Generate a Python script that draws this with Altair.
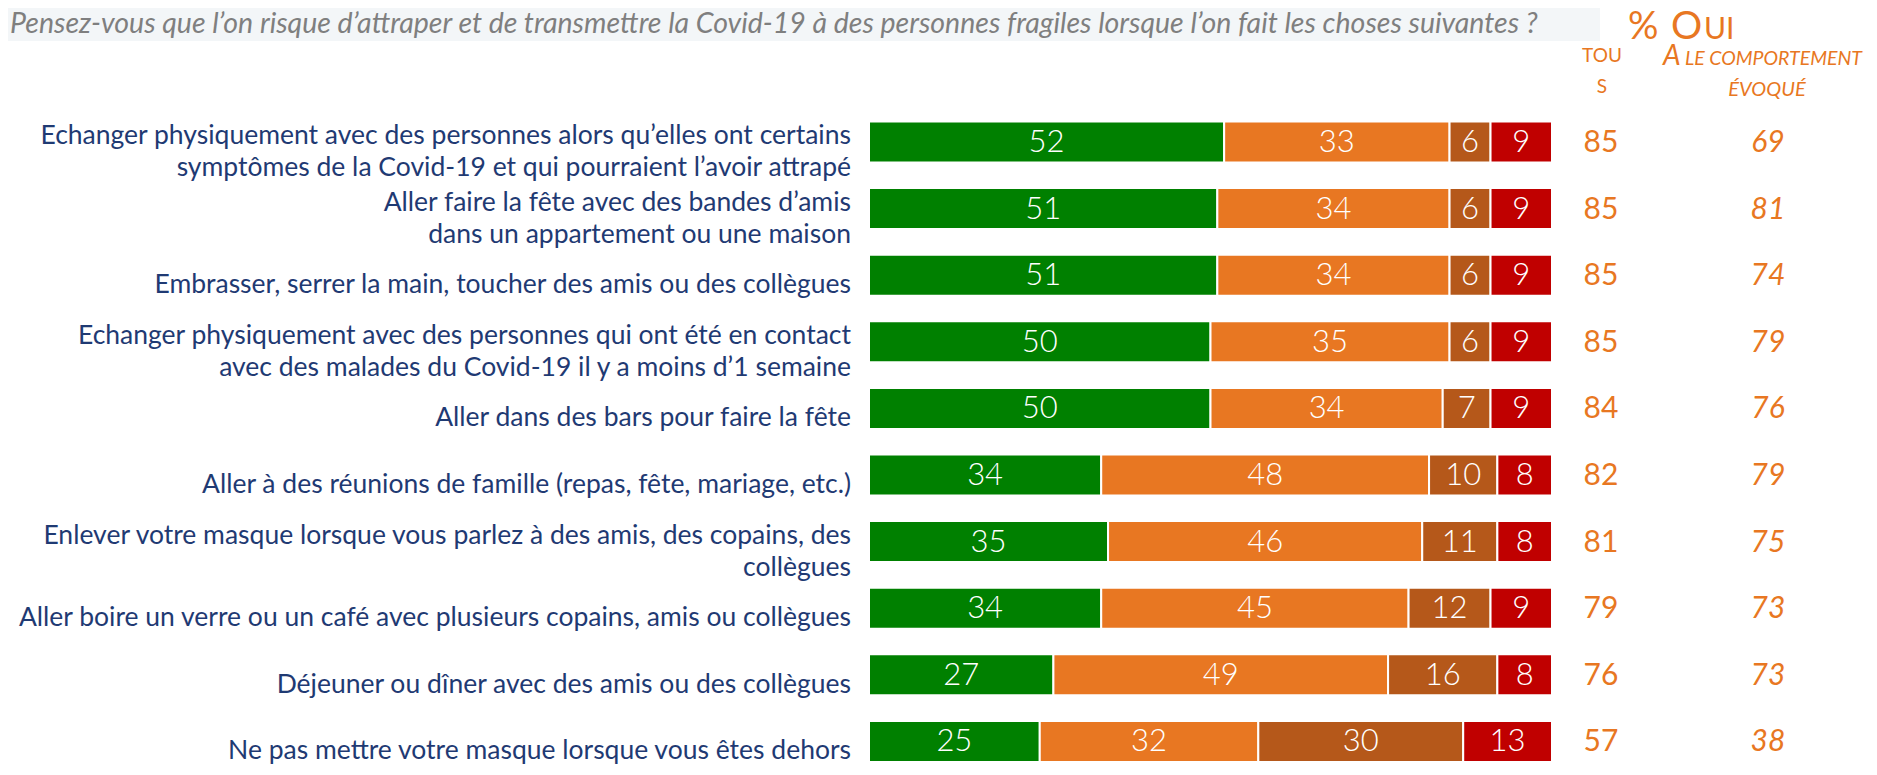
import altair as alt
import pandas as pd

# ---------------- data ----------------
labels = [
    "Echanger physiquement avec des personnes alors qu’elles ont certains\nsymptômes de la Covid-19 et qui pourraient l’avoir attrapé",
    "Aller faire la fête avec des bandes d’amis\ndans un appartement ou une maison",
    "Embrasser, serrer la main, toucher des amis ou des collègues",
    "Echanger physiquement avec des personnes qui ont été en contact\navec des malades du Covid-19 il y a moins d’1 semaine",
    "Aller dans des bars pour faire la fête",
    "Aller à des réunions de famille (repas, fête, mariage, etc.)",
    "Enlever votre masque lorsque vous parlez à des amis, des copains, des\ncollègues",
    "Aller boire un verre ou un café avec plusieurs copains, amis ou collègues",
    "Déjeuner ou dîner avec des amis ou des collègues",
    "Ne pas mettre votre masque lorsque vous êtes dehors",
]
seg_names = ["Oui, tout à fait", "Oui, plutôt", "Non, plutôt pas", "Non, pas du tout"]
v_green = [52, 51, 51, 50, 50, 34, 35, 34, 27, 25]
v_orange = [33, 34, 34, 35, 34, 48, 46, 45, 49, 32]
v_brown = [6, 6, 6, 6, 7, 10, 11, 12, 16, 30]
v_red = [9, 9, 9, 9, 9, 8, 8, 9, 8, 13]
tous = [85, 85, 85, 85, 84, 82, 81, 79, 76, 57]
comportement = [69, 81, 74, 79, 76, 79, 75, 73, 73, 38]

title_text = "Pensez-vous que l’on risque d’attraper et de transmettre la Covid-19 à des personnes fragiles lorsque l’on fait les choses suivantes ?"

# ---------------- style / layout ----------------
seg_colors = ["#008000", "#E87722", "#B5581A", "#C00000"]
ORANGE = "#E87722"
NAVY = "#1F3A73"
FONT = "Lato"
W, H = 1861, 759
PX_PER_UNIT = 6.83
BAR_X0 = 861
ROW0 = 134
ROW_STEP = 66.6
HALF_BAR = 20.5 / ROW_STEP
LH = 32
LABEL_DY = 10

x_dom = [-BAR_X0 / PX_PER_UNIT, (W - BAR_X0) / PX_PER_UNIT]
y_dom = [-ROW0 / ROW_STEP, (H - ROW0) / ROW_STEP]
xs = alt.Scale(domain=x_dom, nice=False, zero=False)
ys = alt.Scale(domain=y_dom, nice=False, zero=False, reverse=True)

rows = []
for i in range(len(labels)):
    vals = [v_green[i], v_orange[i], v_brown[i], v_red[i]]
    start = 0
    for k, v in enumerate(vals):
        rows.append({"pos": i, "seg": seg_names[k], "value": v,
                     "start": start, "end": start + v})
        start += v
seg_df = pd.DataFrame(rows)
row_df = pd.DataFrame({"pos": list(range(len(labels))), "label": labels,
                       "tous": tous, "comp": comportement})

base = alt.Chart(seg_df)
bars = base.mark_bar(stroke="white", strokeWidth=2).transform_calculate(
    y0=f"datum.pos - {HALF_BAR}", y1=f"datum.pos + {HALF_BAR}",
).encode(
    x=alt.X("start:Q", scale=xs, axis=None),
    x2="end:Q",
    y=alt.Y("y0:Q", scale=ys, axis=None),
    y2="y1:Q",
    color=alt.Color("seg:N", scale=alt.Scale(domain=seg_names, range=seg_colors), legend=None),
)
bar_text = base.mark_text(color="white", font=FONT, fontSize=31, fontWeight=300,
                          baseline="middle", dy=1).transform_calculate(
    mid="(datum.start + datum.end) / 2"
).encode(
    x=alt.X("mid:Q", scale=xs, axis=None),
    y=alt.Y("pos:Q", scale=ys, axis=None),
    text="value:Q",
)

rbase = alt.Chart(row_df)
label_text = rbase.mark_text(align="right", baseline="middle", font=FONT, fontSize=26.5,
                             color=NAVY, lineBreak="\n", lineHeight=LH).transform_calculate(
    ly=f"datum.pos + ({LABEL_DY} - (length(split(datum.label, '\\n')) - 1) * {LH / 2}) / {ROW_STEP}"
).encode(
    x=alt.value(843),
    y=alt.Y("ly:Q", scale=ys, axis=None),
    text="label:N",
)
tous_text = rbase.mark_text(align="center", baseline="middle", font=FONT, fontSize=30,
                            color=ORANGE, dy=1).encode(
    x=alt.value(1593), y=alt.Y("pos:Q", scale=ys, axis=None), text="tous:Q")
comp_text = rbase.mark_text(align="center", baseline="middle", font=FONT, fontSize=30,
                            fontStyle="italic", color=ORANGE, dy=1).encode(
    x=alt.value(1760), y=alt.Y("pos:Q", scale=ys, axis=None), text="comp:Q")

# ---------------- header ----------------
one = pd.DataFrame({"t": [title_text]})
header_bg = alt.Chart(one).mark_rect(color="#F3F6F8").encode(
    x=alt.value(0), x2=alt.value(1592), y=alt.value(0), y2=alt.value(33))
title_mark = alt.Chart(one).mark_text(align="left", baseline="middle", font=FONT,
                                      fontSize=28.5, fontStyle="italic", color="#7F7F7F").encode(
    x=alt.value(2), y=alt.value(16), text="t:N")

def htext(txt, x, y, size, align="left", italic=False):
    d = pd.DataFrame({"t": [txt]})
    kw = dict(align=align, baseline="alphabetic", font=FONT, fontSize=size, color=ORANGE)
    if italic:
        kw["fontStyle"] = "italic"
    return alt.Chart(d).mark_text(**kw).encode(x=alt.value(x), y=alt.value(y), text="t:N")

headers = [
    htext("%", 1620, 31, 38),
    htext("O", 1663, 31, 39),
    htext("UI", 1696, 31, 30),
    htext("TOU", 1594, 54, 19, align="center"),
    htext("S", 1594, 85, 19, align="center"),
    htext("A", 1655, 57, 28, italic=True),
    htext("LE COMPORTEMENT", 1677, 57, 19.5, italic=True),
    htext("ÉVOQUÉ", 1759, 88, 20, align="center", italic=True),
]

chart = alt.layer(header_bg, title_mark, *headers, bars, bar_text, label_text,
                  tous_text, comp_text).properties(
    width=W, height=H, autosize=alt.AutoSizeParams(type="none"), padding=0
).configure_view(stroke=None)

chart.save("out.html", embed_options={"renderer": "svg", "actions": False})
